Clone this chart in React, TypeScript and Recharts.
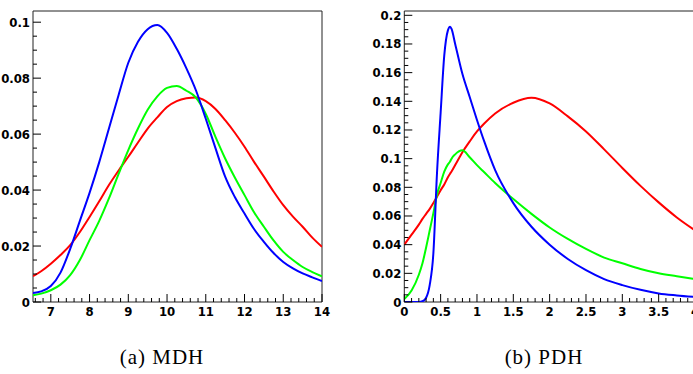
import React from 'react';
import { LineChart, Line, XAxis, YAxis, ReferenceArea } from 'recharts';

// (a) MDH
const mdhX = [6.54, 6.75, 7, 7.25, 7.5, 7.75, 8, 8.25, 8.5, 8.75, 9, 9.25, 9.5, 9.75, 10, 10.25, 10.5, 10.75, 11, 11.25, 11.5, 11.75, 12, 12.25, 12.5, 12.75, 13, 13.25, 13.5, 13.75, 14];
const mdhBlue = [0.0032, 0.0038, 0.0057, 0.0105, 0.019, 0.029, 0.039, 0.05, 0.062, 0.074, 0.0855, 0.093, 0.0975, 0.099, 0.0962, 0.0905, 0.0835, 0.0755, 0.0655, 0.055, 0.0448, 0.0375, 0.0316, 0.026, 0.0215, 0.0175, 0.0143, 0.012, 0.0102, 0.0088, 0.0075];
const mdhGreen = [0.0024, 0.003, 0.0042, 0.0062, 0.0096, 0.015, 0.0221, 0.029, 0.037, 0.0458, 0.0543, 0.062, 0.0687, 0.0735, 0.0765, 0.0772, 0.0755, 0.073, 0.0672, 0.059, 0.0513, 0.0445, 0.0382, 0.032, 0.0269, 0.022, 0.0179, 0.015, 0.0125, 0.0107, 0.0092];
const mdhRed = [0.0092, 0.011, 0.0137, 0.0168, 0.0203, 0.025, 0.0304, 0.036, 0.0418, 0.047, 0.0519, 0.057, 0.062, 0.066, 0.0697, 0.0718, 0.0728, 0.0731, 0.0718, 0.069, 0.065, 0.0605, 0.0555, 0.05, 0.0448, 0.0395, 0.0346, 0.0305, 0.0269, 0.023, 0.0197];
const mdhXLabels = [7, 8, 9, 10, 11, 12, 13, 14];
const mdhYLabels = [0, 0.02, 0.04, 0.06, 0.08, 0.1];

// (b) PDH
const pdhX = [0, 0.1, 0.2, 0.25, 0.3, 0.35, 0.4, 0.45, 0.5, 0.55, 0.6, 0.63, 0.65, 0.7, 0.8, 0.9, 1, 1.1, 1.25, 1.5, 1.75, 2, 2.25, 2.5, 2.75, 3, 3.25, 3.5, 3.75, 4];
const pdhBlue = [0, 0, 0, 0.0005, 0.003, 0.012, 0.034, 0.09, 0.132, 0.172, 0.1895, 0.192, 0.1905, 0.18, 0.159, 0.143, 0.127, 0.112, 0.092, 0.069, 0.0525, 0.04, 0.03, 0.0222, 0.016, 0.0118, 0.0085, 0.006, 0.0046, 0.0035];
const pdhGreen = [0.002, 0.008, 0.019, 0.027, 0.038, 0.05, 0.062, 0.075, 0.083, 0.091, 0.096, 0.098, 0.1, 0.103, 0.1058, 0.101, 0.0955, 0.0905, 0.083, 0.0718, 0.0615, 0.052, 0.044, 0.037, 0.031, 0.027, 0.023, 0.02, 0.018, 0.016];
const pdhRed = [0.04, 0.047, 0.054, 0.058, 0.0615, 0.065, 0.069, 0.0735, 0.078, 0.082, 0.087, 0.0895, 0.091, 0.0955, 0.1045, 0.112, 0.119, 0.1245, 0.1315, 0.139, 0.1425, 0.1385, 0.1295, 0.119, 0.1065, 0.0935, 0.081, 0.0695, 0.059, 0.05];
const pdhXLabels = [0, 0.5, 1, 1.5, 2, 2.5, 3, 3.5, 4];
const pdhYLabels = [0, 0.02, 0.04, 0.06, 0.08, 0.1, 0.12, 0.14, 0.16, 0.18, 0.2];

const tickFont = "'Liberation Sans Narrow', 'DejaVu Sans Condensed', 'Arial Narrow', sans-serif";

const steps = (from: number, to: number, step: number) => {
  const out: number[] = [];
  for (let v = from; v <= to + 1e-9; v += step) out.push(Math.round(v * 10000) / 10000);
  return out;
};
const isMajor = (v: number, majors: number[]) => majors.some((m) => Math.abs(m - v) < 1e-6);

const XTick = ({ x, y, payload, majors }: any) => {
  const major = isMajor(payload.value, majors);
  return (
    <g>
      <line x1={x} x2={x} y1={y} y2={y - (major ? 8 : 4)} stroke="#000" />
      {major && (
        <text x={x} y={y + 14} textAnchor="middle" fontFamily={tickFont} fontWeight="bold" fontSize={13} fill="#000">
          {String(payload.value)}
        </text>
      )}
    </g>
  );
};

const YTick = ({ x, y, payload, majors }: any) => {
  const major = isMajor(payload.value, majors);
  return (
    <g>
      <line x1={x} x2={x + (major ? 8 : 4)} y1={y} y2={y} stroke="#000" />
      {major && (
        <text x={x - 3} y={y + 4.5} textAnchor="end" fontFamily={tickFont} fontWeight="bold" fontSize={13} fill="#000">
          {String(payload.value)}
        </text>
      )}
    </g>
  );
};

interface PanelProps {
  xs: number[];
  blue: number[];
  green: number[];
  red: number[];
  xDomain: [number, number];
  yMax: number;
  xMajors: number[];
  xMinor: number[];
  yMajors: number[];
  yMinor: number[];
  width: number;
  margin: { top: number; right: number; bottom: number; left: number };
  left: number;
}

// axes take 1px each, so margins are 1px less than the plot edges
const Panel = (p: PanelProps) => {
  const rows = p.xs.map((x, i) => ({ x, blue: p.blue[i], green: p.green[i], red: p.red[i] }));
  return (
    <div style={{ position: 'absolute', left: p.left, top: 0 }}>
      <LineChart width={p.width} height={330} data={rows} margin={p.margin}>
        <XAxis
          dataKey="x"
          type="number"
          domain={p.xDomain}
          allowDataOverflow
          ticks={p.xMinor}
          interval={0}
          height={1}
          tickSize={0}
          tickMargin={0}
          tickLine={false}
          axisLine={false}
          tick={(t: any) => <XTick {...t} majors={p.xMajors} />}
        />
        <YAxis
          type="number"
          domain={[0, p.yMax]}
          allowDataOverflow
          ticks={p.yMinor}
          interval={0}
          width={1}
          tickSize={0}
          tickMargin={0}
          tickLine={false}
          axisLine={false}
          tick={(t: any) => <YTick {...t} majors={p.yMajors} />}
        />
        <ReferenceArea x1={p.xDomain[0]} x2={p.xDomain[1]} y1={0} y2={p.yMax} fill="none" stroke="#222" strokeWidth={1} ifOverflow="visible" />
        <Line dataKey="red" type="monotone" stroke="#ff0000" strokeWidth={2} dot={false} isAnimationActive={false} />
        <Line dataKey="green" type="monotone" stroke="#00ff00" strokeWidth={2} dot={false} isAnimationActive={false} />
        <Line dataKey="blue" type="monotone" stroke="#0000ff" strokeWidth={2} dot={false} isAnimationActive={false} />
      </LineChart>
    </div>
  );
};

const captionStyle = (center: number): React.CSSProperties => ({
  position: 'absolute',
  left: center - 100,
  width: 200,
  top: 347,
  textAlign: 'center',
  fontFamily: "'Liberation Serif', serif",
  fontSize: 21,
  lineHeight: '20px',
  letterSpacing: 1,
  color: '#000',
});

export default function App() {
  return (
    <div style={{ position: 'fixed', left: 0, top: 0, width: 693, height: 374, overflow: 'hidden', background: '#fff' }}>
      <Panel
        xs={mdhX}
        blue={mdhBlue}
        green={mdhGreen}
        red={mdhRed}
        xDomain={[6.54, 14]}
        yMax={0.104}
        xMajors={mdhXLabels}
        xMinor={steps(6.6, 14, 0.2)}
        yMajors={mdhYLabels}
        yMinor={steps(0, 0.1, 0.005)}
        width={340}
        margin={{ top: 11, right: 18, bottom: 27, left: 32 }}
        left={0}
      />
      <Panel
        xs={pdhX}
        blue={pdhBlue}
        green={pdhGreen}
        red={pdhRed}
        xDomain={[0, 4]}
        yMax={0.203}
        xMajors={pdhXLabels}
        xMinor={steps(0, 4, 0.1)}
        yMajors={pdhYLabels}
        yMinor={steps(0, 0.2, 0.005)}
        width={345}
        margin={{ top: 11, right: 10, bottom: 27, left: 43.3 }}
        left={360}
      />
      <div style={captionStyle(162)}>(a) MDH</div>
      <div style={captionStyle(544)}>(b) PDH</div>
    </div>
  );
}
